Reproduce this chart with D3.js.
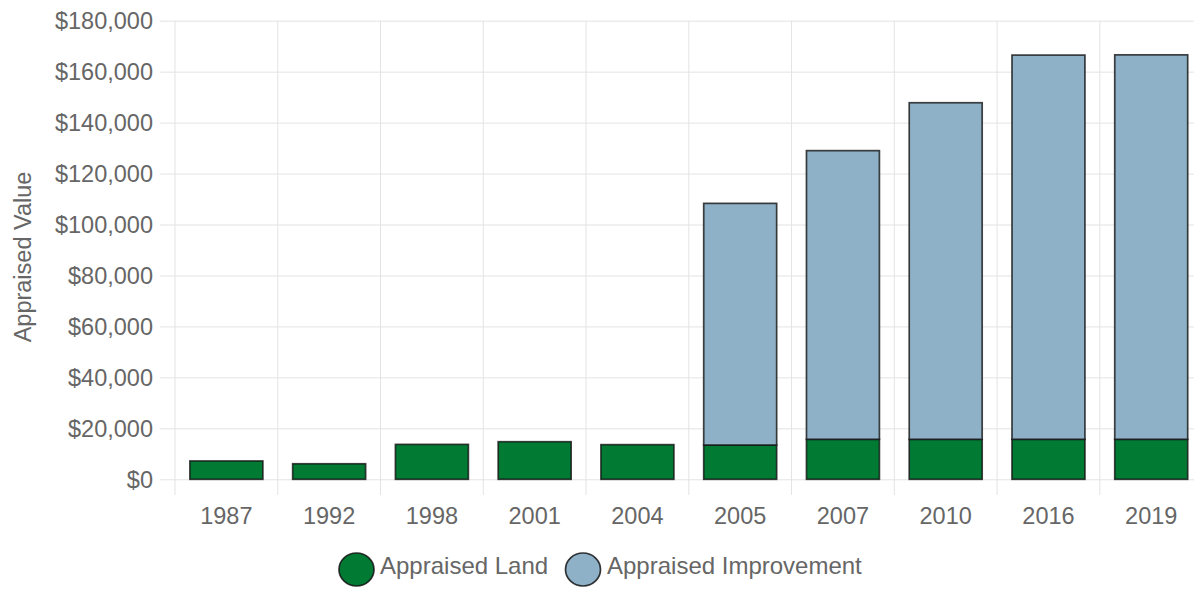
<!DOCTYPE html>
<html>
<head>
<meta charset="utf-8">
<script src="https://cdn.jsdelivr.net/npm/d3@7/dist/d3.min.js"></script>
<style>
  html, body { margin: 0; padding: 0; background: #fff; overflow: hidden; }
  svg { display: block; font-family: "Liberation Sans", Arial, Helvetica, sans-serif; }
</style>
</head>
<body>
<svg id="chart" width="1194" height="590"></svg>
<script>
// Appraisal history by year
const years = ["1987", "1992", "1998", "2001", "2004", "2005", "2007", "2010", "2016", "2019"];
const landValues = [7200, 6100, 13700, 14750, 13600, 13450, 15700, 15700, 15700, 15700];
const improvementValues = [0, 0, 0, 0, 0, 94850, 113300, 132100, 150800, 150900];
const yTicks = [0, 20000, 40000, 60000, 80000, 100000, 120000, 140000, 160000, 180000];
const seriesNames = ["Appraised Land", "Appraised Improvement"];
const seriesColors = ["#017b34", "#8fb1c8"];

(function () {
  const svg = d3.select("#chart");
  const plotLeft = 175, plotRight = 1202.6, plotTop = 20.7, plotBottom = 479.3;
  const textColor = "#666";
  const gridColor = "#e3e3e3";
  const fontSize = 23.5;

  const x = d3.scaleBand().domain(years).range([plotLeft, plotRight]).padding(0);
  const y = d3.scaleLinear().domain([0, 180000]).range([plotBottom, plotTop]);
  const barW = x.bandwidth() * 0.71;

  // horizontal grid + y labels
  const yAxis = d3.axisLeft(y)
    .tickValues(yTicks)
    .tickSize(0)
    .tickFormat(d => "$" + d3.format(",")(d));
  svg.append("g")
    .attr("transform", `translate(${plotLeft - 15},0)`)
    .call(yAxis)
    .call(g => g.select(".domain").remove())
    .call(g => g.selectAll(".tick line").attr("stroke", gridColor).attr("stroke-width", 1)
        .attr("x1", 0).attr("x2", (plotRight - plotLeft) + 15))
    .call(g => g.selectAll(".tick text").attr("fill", textColor).attr("font-size", fontSize)
        .attr("font-family", "Liberation Sans, Arial, sans-serif")
        .attr("x", -7).attr("dy", "0.34em"));

  // vertical grid at category boundaries
  const boundaries = years.map(d => x(d)).concat([plotRight]);
  svg.append("g").selectAll("line").data(boundaries).join("line")
    .attr("x1", d => d).attr("x2", d => d)
    .attr("y1", plotTop).attr("y2", plotBottom + 15.7)
    .attr("stroke", gridColor).attr("stroke-width", 1);

  // x labels
  svg.append("g").selectAll("text").data(years).join("text")
    .attr("x", d => x(d) + x.bandwidth() / 2)
    .attr("y", 516)
    .attr("dy", "0.35em")
    .attr("text-anchor", "middle")
    .attr("fill", textColor)
    .attr("font-size", fontSize)
    .text(d => d);

  // stacked bars
  const rows = years.map((yr, i) => ({ year: yr, land: landValues[i], improvement: improvementValues[i] }));
  const stack = d3.stack().keys(["land", "improvement"])(rows);
  svg.append("g").selectAll("g").data(stack).join("g")
    .attr("fill", (d, i) => seriesColors[i])
    .selectAll("rect").data(d => d.filter(p => p[1] - p[0] > 0)).join("rect")
    .attr("x", d => x(d.data.year) + (x.bandwidth() - barW) / 2)
    .attr("width", barW)
    .attr("y", d => y(d[1]))
    .attr("height", d => y(d[0]) - y(d[1]))
    .attr("stroke", "rgba(20,20,20,0.8)")
    .attr("stroke-width", 1.7);

  // y axis title
  svg.append("text")
    .attr("transform", `translate(23,${(plotTop + plotBottom) / 2 + 7}) rotate(-90)`)
    .attr("text-anchor", "middle")
    .attr("dy", "0.35em")
    .attr("fill", textColor)
    .attr("font-size", fontSize)
    .text("Appraised Value");

  // legend
  const legend = svg.append("g");
  const legendItems = [
    { name: seriesNames[0], color: seriesColors[0], cx: 356.5, tx: 380 },
    { name: seriesNames[1], color: seriesColors[1], cx: 583, tx: 607 }
  ];
  legendItems.forEach(it => {
    legend.append("ellipse").attr("cx", it.cx).attr("cy", 569.5).attr("rx", 17.5).attr("ry", 16.5)
      .attr("fill", it.color).attr("stroke", "rgba(20,20,20,0.85)").attr("stroke-width", 1.7);
    legend.append("text").attr("x", it.tx).attr("y", 565.5).attr("dy", "0.35em")
      .attr("fill", textColor).attr("font-size", 24).text(it.name);
  });
})();
</script>
</body>
</html>
